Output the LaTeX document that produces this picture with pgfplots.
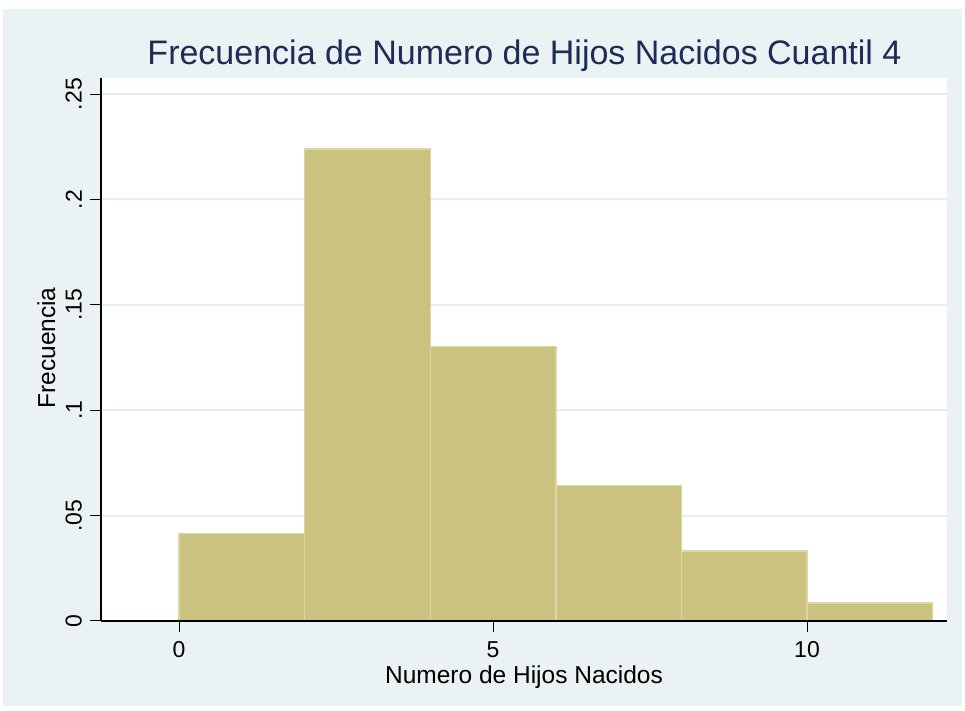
\documentclass[border=0pt]{standalone}
\usepackage{pgfplots}
\pgfplotsset{compat=1.18}
\usepackage{fontspec}
\setmainfont{Liberation Sans}
\definecolor{bgc}{RGB}{234,242,243}
\definecolor{gridc}{RGB}{230,238,240}
\definecolor{barfill}{RGB}{203,194,127}
\definecolor{baredge}{RGB}{221,215,165}
\definecolor{titlec}{RGB}{30,44,86}
\begin{document}
\begin{tikzpicture}
\fill[white] (0,0) rectangle (965pt,711pt);
\fill[bgc] (3pt,5pt) rectangle (962pt,702pt);
\begin{axis}[
  at={(101pt,90pt)}, anchor=south west,
  scale only axis, width=846.3pt, height=542.7pt,
  xmin=-1.242, xmax=12.234, ymin=0, ymax=0.2575,
  axis background/.style={fill=white},
  axis x line*=bottom, axis y line*=left,
  axis line style={-, black, line width=1.2pt},
  tick align=outside, major tick length=11pt,
  tick style={black, line width=1pt},
  xtick={0,5,10}, xticklabels={0,5,10},
  ytick={0,0.05,0.1,0.15,0.2,0.25},
  yticklabels={0,.05,.1,.15,.2,.25},
  xticklabel style={font=\fontsize{23}{27}\selectfont, anchor=north, inner sep=0pt},
  xticklabel shift=9.7pt,
  yticklabel style={font=\fontsize{23}{27}\selectfont, rotate=90, anchor=south, inner sep=0pt},
  yticklabel shift=8pt,
  xmajorgrids=false, ymajorgrids=true,
  major grid style={draw=gridc, line width=2pt},
]
\addplot[ybar interval, fill=barfill, draw=baredge, line width=1.4pt]
  coordinates {(0,0.0416) (2,0.2240) (4,0.1301) (6,0.0644) (8,0.0332) (10,0.0086) (12,0.0086)};
\draw[black, line width=1.2pt] (axis cs:-1.242,0) -- (axis cs:12.234,0);
\end{axis}
\node[anchor=base, text=titlec, font=\fontsize{34}{40}\selectfont] at (524.5pt,646pt) {Frecuencia de Numero de Hijos Nacidos Cuantil 4};
\node[anchor=base, font=\fontsize{24.5}{29}\selectfont] at (524pt,27.7pt) {Numero de Hijos Nacidos};
\node[anchor=base, rotate=90, font=\fontsize{24.5}{29}\selectfont] at (55pt,363pt) {Frecuencia};
\end{tikzpicture}
\end{document}
